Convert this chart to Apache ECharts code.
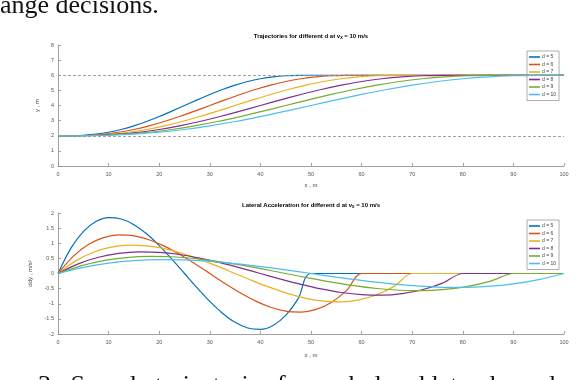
<!DOCTYPE html>
<html>
<head>
<meta charset="utf-8">
<script src="https://cdn.jsdelivr.net/npm/echarts@6/dist/echarts.min.js"></script>
<style>
html,body{margin:0;padding:0;background:#fff;}
#c{width:588px;height:380px;}
</style>
</head>
<body>
<div id="c"></div>
<script>
// ---- data ----
const seriesNames = ['d = 5', 'd = 6', 'd = 7', 'd = 8', 'd = 9', 'd = 10'];
const xTicks = [0, 10, 20, 30, 40, 50, 60, 70, 80, 90, 100];
const laneLines = [6, 2];

const xs5  = [0,2.5,5,7.5,10,12.5,15,17.5,20,22.5,25,27.5,30,32.5,35,37.5,40,42.5,45,47.5,50,100];
const xs6  = [0,3,6,9,12,15,18,21,24,27,30,33,36,39,42,45,48,51,54,57,60,100];
const xs7  = [0,3.5,7,10.5,14,17.5,21,24.5,28,31.5,35,38.5,42,45.5,49,52.5,56,59.5,63,66.5,70,100];
const xs8  = [0,4,8,12,16,20,24,28,32,36,40,44,48,52,56,60,64,68,72,76,80,100];
const xs9  = [0,4.5,9,13.5,18,22.5,27,31.5,36,40.5,45,49.5,54,58.5,63,67.5,72,76.5,81,85.5,90,100];
const xs10 = [0,5,10,15,20,25,30,35,40,45,50,55,60,65,70,75,80,85,90,95,100];

// lateral position y (m)
const y5  = [2,2.005,2.034,2.106,2.232,2.414,2.652,2.941,3.27,3.628,4,4.372,4.73,5.059,5.348,5.586,5.768,5.894,5.966,5.995,6,6];
const y6  = [2,2.005,2.034,2.106,2.232,2.414,2.652,2.941,3.27,3.628,4,4.372,4.73,5.059,5.348,5.586,5.768,5.894,5.966,5.995,6,6];
const y7  = [2,2.005,2.034,2.106,2.232,2.414,2.652,2.941,3.27,3.628,4,4.372,4.73,5.059,5.348,5.586,5.768,5.894,5.966,5.995,6,6];
const y8  = [2,2.005,2.034,2.106,2.232,2.414,2.652,2.941,3.27,3.628,4,4.372,4.73,5.059,5.348,5.586,5.768,5.894,5.966,5.995,6,6];
const y9  = [2,2.005,2.034,2.106,2.232,2.414,2.652,2.941,3.27,3.628,4,4.372,4.73,5.059,5.348,5.586,5.768,5.894,5.966,5.995,6,6];
const y10 = [2,2.005,2.034,2.106,2.232,2.414,2.652,2.941,3.27,3.628,4,4.372,4.73,5.059,5.348,5.586,5.768,5.894,5.966,5.995,6];

// lateral acceleration ddy (m/s^2)
const a5  = [0,0.822,1.384,1.716,1.846,1.802,1.615,1.312,0.923,0.476,0,-0.476,-0.923,-1.312,-1.615,-1.802,-1.846,-1.716,-1.384,-0.822,0,0];
const a6  = [0,0.568,0.956,1.185,1.275,1.245,1.116,0.906,0.637,0.329,0,-0.329,-0.637,-0.906,-1.116,-1.245,-1.275,-1.185,-0.956,-0.568,0,0];
const a7  = [0,0.417,0.703,0.871,0.937,0.915,0.82,0.666,0.468,0.242,0,-0.242,-0.468,-0.666,-0.82,-0.915,-0.937,-0.871,-0.703,-0.417,0,0];
const a8  = [0,0.319,0.538,0.667,0.717,0.7,0.628,0.51,0.359,0.185,0,-0.185,-0.359,-0.51,-0.628,-0.7,-0.717,-0.667,-0.538,-0.319,0,0];
const a9  = [0,0.252,0.425,0.527,0.567,0.553,0.496,0.403,0.283,0.146,0,-0.146,-0.283,-0.403,-0.496,-0.553,-0.567,-0.527,-0.425,-0.252,0,0];
const a10 = [0,0.204,0.344,0.427,0.459,0.448,0.402,0.326,0.229,0.118,0,-0.118,-0.229,-0.326,-0.402,-0.448,-0.459,-0.427,-0.344,-0.204,0];

const topTitle = 'Trajectories for different d at v';
const botTitle = 'Lateral Acceleration for different d at v';
const titleSub = 'x';
const titleTail = ' = 10 m/s';
const headText = 'ange decisions.';
const captionText = '3.  Sample trajectories for each d and lateral acceleration the list';

// ---- chart ----
const colors = ['#0072BD', '#D95319', '#EDB120', '#7E2F8E', '#77AC30', '#4DBEEE'];
const xsAll = [xs5, xs6, xs7, xs8, xs9, xs10];
const yAll = [y5, y6, y7, y8, y9, y10];
const aAll = [a5, a6, a7, a8, a9, a10];
const pair = (xs, ys) => xs.map((x, i) => [x, ys[i]]);

const axisCol = '#8a8a8a';
const labCol = '#555';
const FONT = 'Liberation Sans, Arial, sans-serif';
const SERIF = 'Liberation Serif, Times New Roman, serif';

function xAxisDef(gi) {
  return {
    gridIndex: gi, type: 'value', min: 0, max: 100, interval: 10,
    name: 'x , m', nameLocation: 'middle', nameGap: gi === 0 ? 16 : 18,
    nameTextStyle: { fontSize: 6, color: '#444', fontFamily: FONT },
    axisLine: { show: true, onZero: false, lineStyle: { color: axisCol, width: 0.8 } },
    axisTick: { show: true, inside: true, length: 3, lineStyle: { color: axisCol, width: 0.8 } },
    axisLabel: { fontSize: 5.5, color: labCol, margin: 5, fontFamily: FONT },
    splitLine: { show: false }
  };
}
function yAxisDef(gi, min, max, interval, name, gap) {
  return {
    gridIndex: gi, type: 'value', min: min, max: max, interval: interval,
    name: name, nameLocation: 'middle', nameGap: gap,
    nameTextStyle: { fontSize: 6, color: '#444', fontFamily: FONT },
    axisLine: { show: true, onZero: false, lineStyle: { color: axisCol, width: 0.8 } },
    axisTick: { show: true, inside: true, length: 3, lineStyle: { color: axisCol, width: 0.8 } },
    axisLabel: { fontSize: 5.5, color: labCol, margin: 4, fontFamily: FONT },
    splitLine: { show: false }
  };
}

const series = [];
seriesNames.forEach((n, i) => {
  const s = {
    name: n, type: 'line', xAxisIndex: 0, yAxisIndex: 0,
    data: pair(xsAll[i], yAll[i]), showSymbol: false, smooth: 0.3,
    lineStyle: { width: 1.2, color: colors[i] }, itemStyle: { color: colors[i] },
    z: 3 + i
  };
  if (i === 0) {
    s.markLine = {
      silent: true, symbol: 'none', label: { show: false },
      lineStyle: { color: '#999', type: [3, 2], width: 0.9 },
      data: laneLines.map(v => ({ yAxis: v }))
    };
  }
  series.push(s);
});
seriesNames.forEach((n, i) => {
  series.push({
    name: n, type: 'line', xAxisIndex: 1, yAxisIndex: 1,
    data: pair(xsAll[i], aAll[i]), showSymbol: false, smooth: 0.3,
    lineStyle: { width: 1.2, color: colors[i] }, itemStyle: { color: colors[i] },
    z: 3 + i
  });
});

function legendDef(top) {
  return {
    data: seriesNames, orient: 'vertical', left: 527, top: top,
    icon: 'rect', itemWidth: 11, itemHeight: 1.6, itemGap: 1.5,
    padding: [3, 3, 3, 2],
    backgroundColor: '#fff', borderColor: '#9a9a9a', borderWidth: 0.8,
    textStyle: { fontSize: 5, color: '#444', fontFamily: FONT, lineHeight: 6, padding: [0, 0, 0, -3] },
    selectedMode: false
  };
}

const titleRich = {
  a: { fontSize: 6, fontWeight: 'bold', color: '#111', fontFamily: FONT },
  s: { fontSize: 4.5, fontWeight: 'bold', color: '#111', fontFamily: FONT, padding: [4, 0, 0, 0] }
};

const option = {
  animation: false,
  backgroundColor: '#fff',
  color: colors,
  grid: [
    { left: 58, right: 24, top: 45, height: 121, containLabel: false },
    { left: 58, right: 24, top: 213, height: 121, containLabel: false }
  ],
  xAxis: [xAxisDef(0), xAxisDef(1)],
  yAxis: [
    yAxisDef(0, 0, 8, 1, 'y , m', 11),
    yAxisDef(1, -2, 2, 0.5, 'ddy , m/s\u00B2', 17)
  ],
  legend: [legendDef(51), legendDef(220)],
  series: series,
  graphic: [
    { type: 'text', x: 0, y: -6.5, silent: true,
      style: { text: headText, fontSize: 26, fontFamily: SERIF, fill: '#111', align: 'left', verticalAlign: 'top' } },
    { type: 'text', x: 38, y: 373, silent: true,
      style: { text: captionText, fontSize: 26, fontFamily: SERIF, fill: '#111', align: 'left', verticalAlign: 'top' } },
    { type: 'text', x: 311, y: 36, silent: true,
      style: { text: '{a|' + topTitle + '}{s|' + titleSub + '}{a|' + titleTail + '}', rich: titleRich, align: 'center', verticalAlign: 'middle' } },
    { type: 'text', x: 311, y: 205, silent: true,
      style: { text: '{a|' + botTitle + '}{s|' + titleSub + '}{a|' + titleTail + '}', rich: titleRich, align: 'center', verticalAlign: 'middle' } }
  ]
};

const chart = echarts.init(document.getElementById('c'), null, { renderer: 'canvas' });
chart.setOption(option);
</script>
</body>
</html>
